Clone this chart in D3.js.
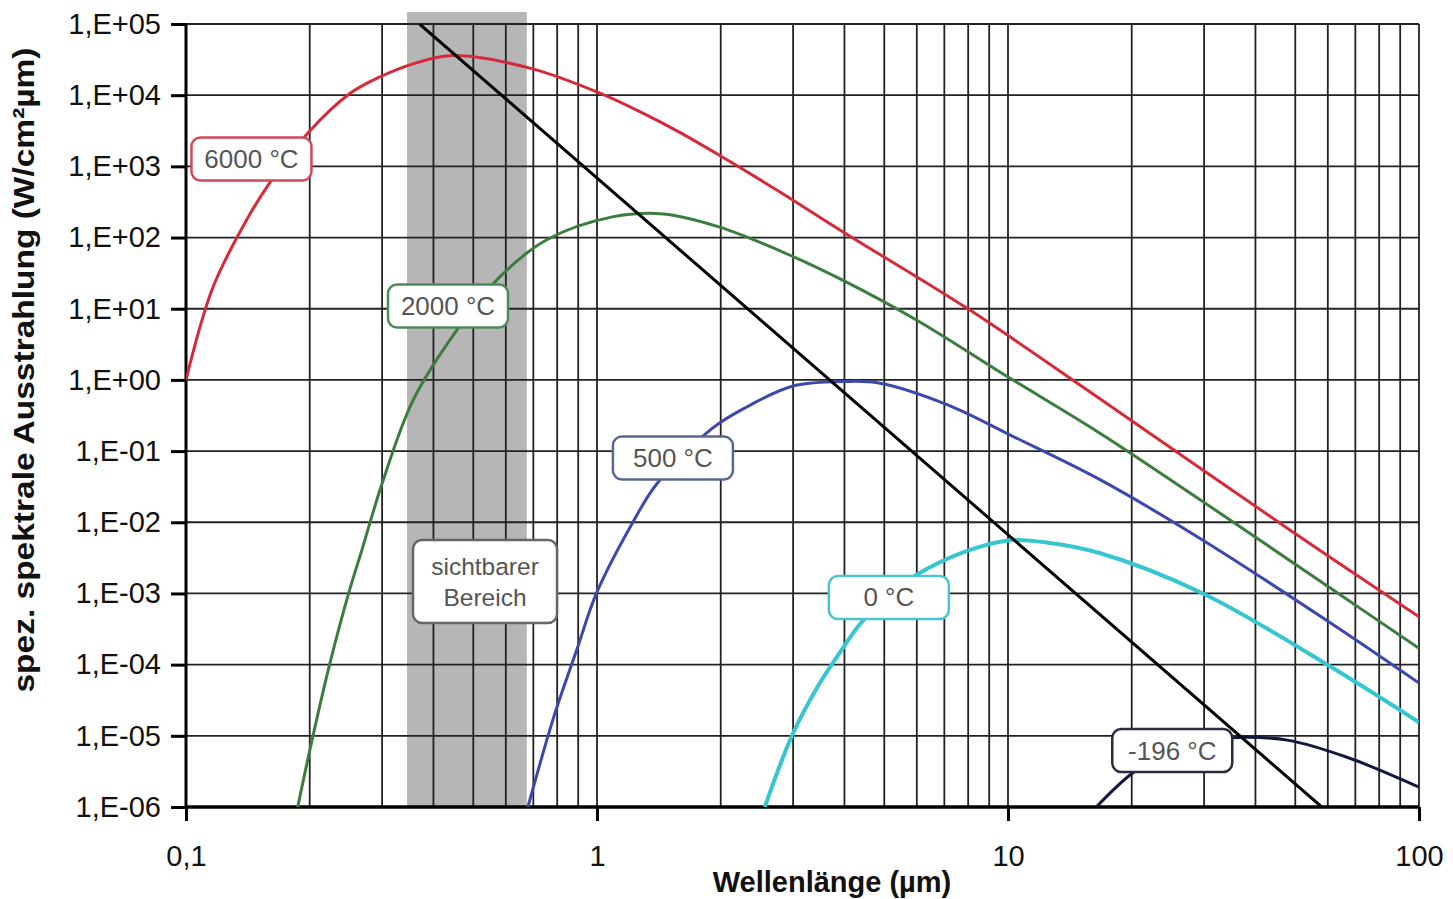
<!DOCTYPE html>
<html>
<head>
<meta charset="utf-8">
<script src="https://cdn.jsdelivr.net/npm/d3@7"></script>
<style>
  body { margin: 0; background: #fff; }
  svg { display: block; font-family: "Liberation Sans", Arial, sans-serif; }
</style>
</head>
<body>
<svg id="chart" width="1453" height="899"></svg>
<script>
// spectral exitance curves, [wavelength in µm, W/cm²µm]
const t6000 = [[0.1, 1.0], [0.1163, 20], [0.1407, 180], [0.16, 590], [0.198, 2950], [0.25, 10500],
  [0.296, 18000], [0.36, 28000], [0.446, 36000], [0.687, 24000], [1.0, 11100], [1.3, 5500],
  [1.59, 3000], [1.99, 1420], [2.8, 430], [3.97, 120], [7.94, 10.2], [16.5, 0.575], [48.5, 7.8e-3],
  [100, 4.7e-4]];
const t2000 = [[0.187, 1e-6], [0.2026, 8.7e-6], [0.224, 1.05e-4], [0.248, 9.5e-4], [0.268, 4.1e-3],
  [0.30, 0.035], [0.357, 0.52], [0.456, 5.0], [0.58, 28], [0.755, 93], [1.09, 195], [1.45, 215],
  [1.99, 140], [3.0, 54], [3.97, 25], [6.0, 6.9], [10, 1.1], [16.7, 0.18], [29.8, 0.0195],
  [60.7, 1.2e-3], [100, 1.7e-4]];
const t500 = [[0.679, 1e-6], [0.784, 1.8e-5], [0.889, 1.5e-4], [1.0, 1.05e-3], [1.22, 9.8e-3],
  [1.40, 0.035], [1.91, 0.21], [2.32, 0.42], [3.0, 0.82], [4.05, 0.95], [4.88, 0.9], [7.11, 0.45],
  [10.3, 0.16], [16.7, 0.04], [29.8, 5.6e-3], [60.7, 3.9e-4], [100, 5.5e-5]];
const t0 = [[2.56, 1e-6], [2.98, 1e-5], [3.45, 5.0e-5], [3.99, 1.8e-4], [4.36, 3.7e-4], [5.0, 8.3e-4],
  [5.97, 1.8e-3], [7.8, 3.8e-3], [10.1, 5.6e-3], [12.4, 5.2e-3], [16.7, 3.7e-3], [29.8, 1.0e-3],
  [60.7, 9.5e-5], [100, 1.55e-5]];
const tm196 = [[16.4, 1e-6], [20.1, 3.0e-6], [25, 6.3e-6], [30, 8.6e-6], [36.7, 9.5e-6],
  [47.8, 8.7e-6], [66.8, 5.0e-6], [100, 1.9e-6]];

// Wien's displacement line (endpoints)
const wien = [[0.37, 1e5], [58, 1e-6]];
// visible range band (µm)
const visible = [0.345, 0.675];

const seriesNames = ['6000 °C', '2000 °C', '500 °C', '0 °C', '-196 °C'];
const seriesData = [t6000, t2000, t500, t0, tm196];
const seriesColors = ['#d42a3a', '#3a7d3e', '#3c48aa', '#35c6cf', '#15163c'];

const xTicks = [0.1, 1, 10, 100];
const xTickLabels = ['0,1', '1', '10', '100'];
const yTicks = [1e-6, 1e-5, 1e-4, 1e-3, 1e-2, 1e-1, 1, 1e1, 1e2, 1e3, 1e4, 1e5];
const yTickLabels = ['1,E-06', '1,E-05', '1,E-04', '1,E-03', '1,E-02', '1,E-01',
  '1,E+00', '1,E+01', '1,E+02', '1,E+03', '1,E+04', '1,E+05'];

// label anchors in data units
const labelText = ['6000 °C', '2000 °C', ['sichtbarer', 'Bereich'], '500 °C', '0 °C', '-196 °C'];
const labelAt = [[0.1443, 1270], [0.434, 10.9], [0.534, 1.47e-3], [1.53, 0.08], [5.13, 8.8e-4], [25.1, 6.2e-6]];
const labelBorder = ['#d24a5a', '#4f8a55', '#666', '#5a6890', '#4cc4cc', '#2a2a40'];

const svg = d3.select('#chart');
const pLeft = 186, pRight = 1419, pTop = 24, pBottom = 807;

const x = d3.scaleLog().domain([0.1, 100]).range([pLeft, pRight]);
const y = d3.scaleLog().domain([1e-6, 1e5]).range([pBottom, pTop]);

svg.append('rect').attr('width', 1453).attr('height', 899).attr('fill', '#fff');

svg.append('defs').append('clipPath').attr('id', 'plot')
  .append('rect').attr('x', pLeft).attr('y', pTop).attr('width', pRight - pLeft).attr('height', pBottom - pTop);

// visible band, sticks out a bit above the plot
svg.append('rect')
  .attr('x', x(visible[0])).attr('y', pTop - 12)
  .attr('width', x(visible[1]) - x(visible[0])).attr('height', pBottom - pTop + 12)
  .attr('fill', '#b6b6b6');

// grid
const grid = svg.append('g').attr('stroke', '#222').attr('stroke-width', 1.8);
grid.selectAll('.v').data(x.ticks()).enter().append('line')
  .attr('x1', d => x(d)).attr('x2', d => x(d)).attr('y1', pTop).attr('y2', pBottom);
grid.selectAll('.h').data(yTicks).enter().append('line')
  .attr('x1', pLeft).attr('x2', pRight).attr('y1', d => y(d)).attr('y2', d => y(d));

// axes
const yAxis = svg.append('g').attr('transform', `translate(${pLeft},0)`)
  .call(d3.axisLeft(y).tickValues(yTicks).tickSize(15).tickPadding(10)
    .tickFormat((d, i) => yTickLabels[i]));
const xAxis = svg.append('g').attr('transform', `translate(0,${pBottom})`)
  .call(d3.axisBottom(x).tickValues(xTicks).tickSize(14).tickPadding(24)
    .tickFormat((d, i) => xTickLabels[i]));
[yAxis, xAxis].forEach(a => {
  a.selectAll('text').attr('font-size', 29).attr('fill', '#111')
    .attr('font-family', '"Liberation Sans", Arial, sans-serif');
  a.selectAll('line').attr('stroke', '#000').attr('stroke-width', 3);
});
yAxis.select('.domain').attr('stroke', '#000').attr('stroke-width', 3).attr('d', `M0,${pTop}V${pBottom}`);
xAxis.select('.domain').attr('stroke', '#000').attr('stroke-width', 3.5).attr('d', `M${pLeft},0H${pRight}`);

// curves
const line = d3.line().x(d => x(d[0])).y(d => y(d[1])).curve(d3.curveCatmullRom.alpha(0.5));
const curves = svg.append('g').attr('clip-path', 'url(#plot)').attr('fill', 'none');
curves.selectAll('path.s').data(seriesData).enter().append('path')
  .attr('d', d => line(d))
  .attr('stroke', (d, i) => seriesColors[i])
  .attr('stroke-width', (d, i) => i === 3 ? 4 : 3);
curves.append('path')
  .attr('d', d3.line().x(d => x(d[0])).y(d => y(d[1]))(wien))
  .attr('stroke', '#000').attr('stroke-width', 3);

// labels
const lab = svg.append('g');
labelText.forEach((t, i) => {
  const multi = Array.isArray(t);
  const w = multi ? 144 : 120, h = multi ? 83 : 43;
  const cx = x(labelAt[i][0]), cy = y(labelAt[i][1]);
  const g = lab.append('g').attr('transform', `translate(${cx},${cy})`);
  g.append('rect').attr('x', -w / 2).attr('y', -h / 2).attr('width', w).attr('height', h)
    .attr('rx', 9).attr('fill', '#fff').attr('stroke', labelBorder[i]).attr('stroke-width', 2.5);
  const lines = multi ? t : [t];
  lines.forEach((s, k) => {
    g.append('text').attr('text-anchor', 'middle')
      .attr('y', (k - (lines.length - 1) / 2) * 31 + 9)
      .attr('font-size', multi ? 24.5 : 26).attr('fill', '#555').text(s);
  });
});

// axis titles
svg.append('text').attr('x', 832).attr('y', 892).attr('text-anchor', 'middle')
  .attr('font-size', 29).attr('font-weight', 'bold').attr('fill', '#111')
  .text('Wellenlänge (µm)');
svg.append('text').attr('transform', 'translate(34,370) rotate(-90)').attr('text-anchor', 'middle')
  .attr('font-size', 30).attr('font-weight', 'bold').attr('fill', '#111')
  .attr('textLength', 645).attr('lengthAdjust', 'spacingAndGlyphs')
  .text('spez. spektrale Ausstrahlung (W/cm²µm)');
</script>
</body>
</html>
